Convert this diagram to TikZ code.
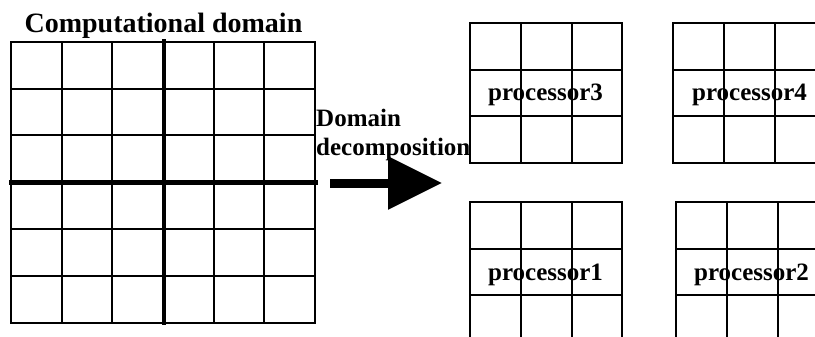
\documentclass[tikz,border=0pt]{standalone}
\usepackage{fontspec}
\setmainfont{Liberation Serif}
\usetikzlibrary{arrows.meta}
\tikzset{
  gridline/.style={line width=2pt, black, line cap=rect},
  thickline/.style={line width=4.5pt, black, line cap=rect},
  lbl/.style={font=\bfseries\fontsize{25}{27}\selectfont, inner sep=0pt},
  ttl/.style={font=\bfseries\fontsize{28}{30}\selectfont, inner sep=0pt},
  bigarrow/.style={line width=9pt, black, -{Triangle[length=54pt,width=51pt]}}
}
\begin{document}
\begin{tikzpicture}[x=1pt,y=-1pt]
\useasboundingbox (0,0) rectangle (815,337);
\clip (0,0) rectangle (815,337);
% computational domain grid
\foreach \i in {0,...,6} {
  \draw[gridline] ({11+\i*50.67},41.7) -- ({11+\i*50.67},323);
  \draw[gridline] (11,{41.7+\i*46.88}) -- (315,{41.7+\i*46.88});
}
\draw[thickline] (164,41.7) -- (164,323);
\draw[thickline] (11,182.5) -- (316,182.5);
\node[ttl, anchor=base] (title) at (163.5,33) {Computational domain};
% arrow
\node[lbl, anchor=base west] (dom) at (316,127) {Domain};
\node[lbl, anchor=base west] (dec) at (316,155) {decomposition};
\coordinate (arrS) at (330,183);
\coordinate (arrE) at (442,183);
\draw[bigarrow] (arrS) -- (arrE);
% processor grids
\foreach \x/\y in {470/23, 673/23, 470/202, 676/202} {
  \foreach \i in {0,...,3} {
    \draw[gridline] ({\x+\i*50.8},\y) -- ({\x+\i*50.8},{\y+140});
    \draw[gridline] (\x,{\y+\i*46.7}) -- ({\x+152.4},{\y+\i*46.7});
  }
}
\node[lbl, anchor=base] (p3) at (545.5,101) {processor3};
\node[lbl, anchor=base] (p4) at (749.5,101) {processor4};
\node[lbl, anchor=base] (p1) at (545.5,280) {processor1};
\node[lbl, anchor=base] (p2) at (751.5,280) {processor2};
\end{tikzpicture}
\end{document}
